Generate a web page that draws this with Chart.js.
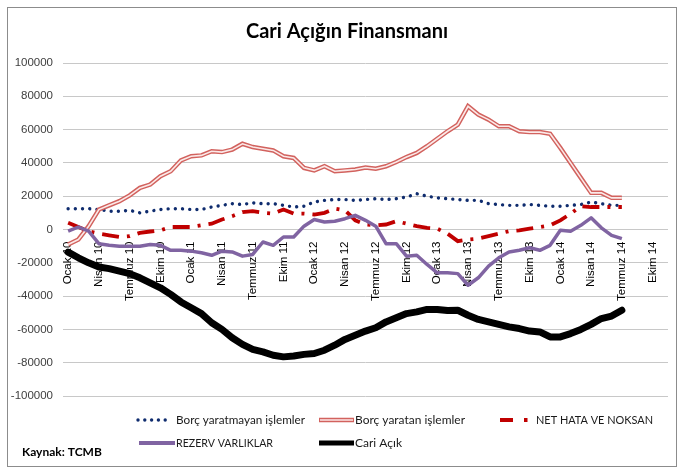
<!DOCTYPE html>
<html><head><meta charset="utf-8">
<script src="https://cdn.jsdelivr.net/npm/chart.js@4.4.0/dist/chart.umd.min.js"></script>
<style>html,body{margin:0;padding:0;background:#fff}#wrap{position:relative;width:682px;height:468px}</style>
</head><body><div id="wrap"><canvas id="c" width="682" height="468"></canvas></div>
<script>
const titleText = 'Cari Açığın Finansmanı';
const sourceText = 'Kaynak: TCMB';
const monthNames = ['Ocak','Şubat','Mart','Nisan','Mayıs','Haziran','Temmuz','Ağustos','Eylül','Ekim','Kasım','Aralık'];
const yearSuffixes = ['10','11','12','13','14'];
const categoryCount = 59;
const categories = yearSuffixes.flatMap(y => monthNames.map(m => m + ' ' + y)).slice(0, categoryCount);
const labelEvery = 3;
const yTicks = [-100000, -80000, -60000, -40000, -20000, 0, 20000, 40000, 60000, 80000, 100000];

const seriesNames = ['Borç yaratmayan işlemler','Borç yaratan işlemler','NET HATA VE NOKSAN','REZERV VARLIKLAR','Cari Açık'];

const borcYaratmayan = [12500,12500,12500,12000,11000,11000,11500,10000,11000,12000,12500,12500,12000,12000,13500,14500,15500,15000,16000,15500,15500,14500,13500,14000,16500,17500,18000,18000,17500,18000,18500,18000,18500,19500,21500,20000,19000,18500,18000,17500,17500,15500,15000,14500,14500,15000,14500,14000,14000,14500,15000,16500,15500,14500,14500];
const borcYaratan = [-9000,-6000,2000,12000,14500,17000,20500,25000,27000,32000,35000,41500,44000,44500,47000,46500,48000,51500,49500,48500,47500,44000,43000,37000,35500,38000,35000,35500,36000,37200,36500,38000,40500,43500,46000,50000,54500,59000,63000,74000,69000,66000,62000,62000,59000,58500,58500,57500,49000,40000,31000,22000,22000,19000,19000];
const netHata = [4000,1500,-1000,-2500,-3500,-4500,-4000,-2000,-1200,-500,1500,1500,1500,2500,3500,6000,8000,10500,11000,10000,9500,12000,9500,9500,9000,10000,12500,11500,5500,3000,2500,3000,5000,3500,2000,1000,500,-2500,-7000,-6000,-5500,-4000,-2500,-1000,-500,500,1500,2500,5500,9500,14000,13500,13500,13500,13500];
const rezerv = [-1000,1500,-1000,-8500,-9500,-10000,-10000,-10000,-9000,-9500,-12500,-12500,-13000,-14000,-15500,-13000,-13500,-16000,-15000,-7500,-9500,-4500,-4500,2000,6000,4500,5000,6500,8500,5500,2000,-8500,-8500,-16000,-15500,-21000,-26000,-26000,-26500,-33500,-29000,-22000,-17000,-13500,-12500,-11000,-12500,-9500,-500,-1000,2500,7000,1000,-3500,-5500];
const cariAcik = [-13600,-17000,-20000,-22500,-23500,-25000,-26500,-29000,-32000,-35000,-39000,-43500,-47000,-50500,-56000,-60000,-65000,-69000,-72000,-73500,-75500,-76500,-76000,-75000,-74500,-72500,-69500,-66000,-63500,-61000,-59000,-55500,-53000,-50500,-49500,-48000,-48000,-48700,-48500,-51500,-54000,-55500,-57000,-58500,-59500,-61000,-61500,-64500,-64500,-62500,-60000,-57000,-53500,-52000,-48500];

const C_NAVY = '#0f2c6e', C_RED2 = '#d2625e', C_RED2IN = '#fbe9e8', C_RED = '#c00000', C_PURPLE = '#8064a2', C_BLACK = '#000000';

const extras = {
  id: 'extras',
  afterDraw(chart) {
    const ctx = chart.ctx;
    ctx.save();
    ctx.strokeStyle = '#8c8c8c'; ctx.lineWidth = 1;
    ctx.strokeRect(7.5, 7.5, 669, 459);
    ctx.fillStyle = '#000';
    ctx.textBaseline = 'middle';
    ctx.textAlign = 'center';
    ctx.font = 'bold 20px Lato';
    ctx.fillText(titleText, 347, 32, 216);
    ctx.textAlign = 'left';
    ctx.font = 'bold 12px Lato';
    ctx.fillText(sourceText, 22, 452, 81);
    ctx.font = '12px Lato';
    ctx.fillStyle = '#1a1a1a';
    const r1 = 420, r2 = 443;
    ctx.fillStyle = C_NAVY;
    for (let x = 138; x <= 172; x += 6.8) { ctx.beginPath(); ctx.arc(x, r1, 1.7, 0, Math.PI*2); ctx.fill(); }
    ctx.fillStyle = '#1a1a1a';
    ctx.fillText(seriesNames[0], 176, r1, 129);
    ctx.lineCap = 'butt';
    ctx.strokeStyle = C_RED2; ctx.lineWidth = 4.5;
    ctx.beginPath(); ctx.moveTo(319, r1); ctx.lineTo(354, r1); ctx.stroke();
    ctx.strokeStyle = C_RED2IN; ctx.lineWidth = 1.6;
    ctx.beginPath(); ctx.moveTo(320, r1); ctx.lineTo(353, r1); ctx.stroke();
    ctx.fillText(seriesNames[1], 355, r1, 110);
    ctx.strokeStyle = C_RED; ctx.lineWidth = 4;
    ctx.beginPath(); ctx.moveTo(500, r1); ctx.lineTo(513, r1); ctx.stroke();
    ctx.fillStyle = C_RED; ctx.fillRect(524, r1 - 2, 3.5, 4);
    ctx.fillStyle = '#1a1a1a';
    ctx.fillText(seriesNames[2], 536, r1, 117);
    ctx.strokeStyle = C_PURPLE; ctx.lineWidth = 4;
    ctx.beginPath(); ctx.moveTo(139, r2); ctx.lineTo(175, r2); ctx.stroke();
    ctx.fillText(seriesNames[3], 176, r2, 97);
    ctx.strokeStyle = C_BLACK; ctx.lineWidth = 5;
    ctx.beginPath(); ctx.moveTo(319, r2); ctx.lineTo(354, r2); ctx.stroke();
    ctx.fillText(seriesNames[4], 355, r2, 50);
    ctx.restore();
  }
};

const ds = (label, data, color, width, extra, order) => Object.assign({
  label, data, borderColor: color, backgroundColor: color, borderWidth: width,
  pointRadius: 0, pointHoverRadius: 0, tension: 0, fill: false, order
}, extra);

new Chart(document.getElementById('c'), {
  type: 'line',
  data: {
    labels: categories,
    datasets: [
      ds(seriesNames[4], cariAcik, C_BLACK, 7, {borderJoinStyle: 'round', borderCapStyle: 'round'}, 0),
      ds(seriesNames[3], rezerv, C_PURPLE, 3.5, {borderJoinStyle: 'round'}, 1),
      ds(seriesNames[2], netHata, C_RED, 3.8, {borderDash: [17, 8, 3, 8], borderCapStyle: 'butt'}, 2),
      ds(seriesNames[1] + ' (iç)', borcYaratan, C_RED2IN, 1.6, {}, 3),
      ds(seriesNames[1], borcYaratan, C_RED2, 4.5, {}, 4),
      ds(seriesNames[0], borcYaratmayan, C_NAVY, 3.4, {borderDash: [0.001, 7.2], borderCapStyle: 'round'}, 5)
    ]
  },
  options: {
    responsive: false,
    animation: false,
    devicePixelRatio: 1,
    layout: {padding: {left: 0, right: 14, top: 63, bottom: 72}},
    plugins: {legend: {display: false}, title: {display: false}, tooltip: {enabled: false}},
    scales: {
      x: {
        type: 'category',
        position: {y: 0},
        offset: true,
        grid: {display: false},
        border: {display: false},
        ticks: {
          autoSkip: false, maxRotation: 90, minRotation: 90, padding: 4,
          color: '#000', font: {family: 'Liberation Sans', size: 11.5},
          callback: function(v, i) { return i % labelEvery === 0 ? this.getLabelForValue(v) : null; }
        }
      },
      y: {
        min: yTicks[0], max: yTicks[yTicks.length - 1],
        afterBuildTicks: s => { s.ticks = yTicks.map(v => ({value: v})); },
        afterFit: s => { s.width = 63; },
        grid: {color: '#c8c8c8', lineWidth: 1, drawTicks: false},
        border: {display: false},
        ticks: {padding: 10, color: '#404040', font: {family: 'Liberation Sans', size: 11.5}, callback: v => String(v)}
      }
    }
  },
  plugins: [extras]
});
</script></body></html>
